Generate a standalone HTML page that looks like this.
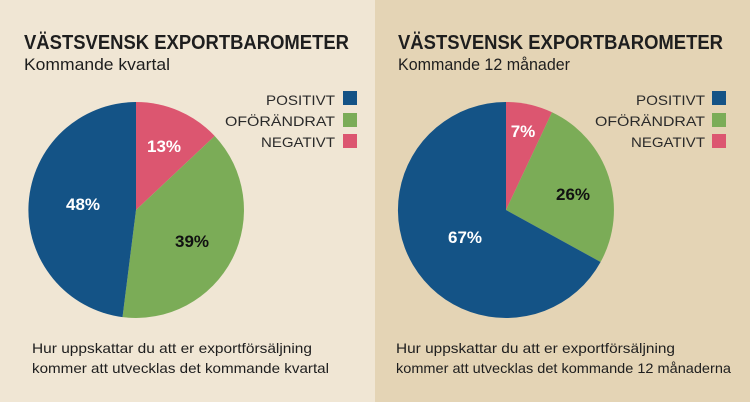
<!DOCTYPE html>
<html><head><meta charset="utf-8"><style>
body{margin:0;width:750px;height:402px;overflow:hidden;font-family:"Liberation Sans",sans-serif;}
</style></head><body>
<svg width="750" height="402" xmlns="http://www.w3.org/2000/svg" font-family="Liberation Sans, sans-serif">
<rect x="0" y="0" width="375" height="402" fill="#f0e6d4"/>
<rect x="375" y="0" width="375" height="402" fill="#e4d4b5"/>
<!-- left -->
<text x="24" y="49" font-size="20" font-weight="bold" fill="#1e1e1e" textLength="325" lengthAdjust="spacingAndGlyphs">VÄSTSVENSK EXPORTBAROMETER</text>
<text x="24" y="70" font-size="17" fill="#1e1e1e" textLength="146" lengthAdjust="spacingAndGlyphs">Kommande kvartal</text>
<path d="M136,210 L136,102 A108,108 0 0 1 214.7,136 Z" fill="#dc5670"/>
<path d="M136,210 L214.7,136 A108,108 0 0 1 122.5,317.1 Z" fill="#7bac57"/>
<path d="M136,210 L122.5,317.1 A108,108 0 0 1 136,102 Z" fill="#145386"/>
<text x="164" y="152" font-size="17" font-weight="bold" fill="#fff" text-anchor="middle">13%</text>
<text x="192" y="247" font-size="17" font-weight="bold" fill="#111" text-anchor="middle">39%</text>
<text x="83" y="210" font-size="17" font-weight="bold" fill="#fff" text-anchor="middle">48%</text>
<g font-size="14" fill="#2a2a2a" text-anchor="end">
<text x="335" y="105" textLength="69" lengthAdjust="spacingAndGlyphs">POSITIVT</text><text x="335" y="126" textLength="110" lengthAdjust="spacingAndGlyphs">OFÖRÄNDRAT</text><text x="335" y="147" textLength="74" lengthAdjust="spacingAndGlyphs">NEGATIVT</text>
</g>
<rect x="343" y="91" width="14" height="14" fill="#145386"/>
<rect x="343" y="113" width="14" height="14" fill="#7bac57"/>
<rect x="343" y="134" width="14" height="14" fill="#dc5670"/>
<text x="32" y="353" font-size="14" fill="#1e1e1e" textLength="280" lengthAdjust="spacingAndGlyphs">Hur uppskattar du att er exportförsäljning</text>
<text x="32" y="373" font-size="14" fill="#1e1e1e" textLength="297" lengthAdjust="spacingAndGlyphs">kommer att utvecklas det kommande kvartal</text>
<!-- right -->
<text x="398" y="49" font-size="20" font-weight="bold" fill="#1e1e1e" textLength="325" lengthAdjust="spacingAndGlyphs">VÄSTSVENSK EXPORTBAROMETER</text>
<text x="398" y="70" font-size="17" fill="#1e1e1e" textLength="172" lengthAdjust="spacingAndGlyphs">Kommande 12 månader</text>
<path d="M506,210 L506,102 A108,108 0 0 1 552,112.3 Z" fill="#dc5670"/>
<path d="M506,210 L552,112.3 A108,108 0 0 1 600.6,262 Z" fill="#7bac57"/>
<path d="M506,210 L600.6,262 A108,108 0 1 1 506,102 Z" fill="#145386"/>
<text x="523" y="137" font-size="17" font-weight="bold" fill="#fff" text-anchor="middle">7%</text>
<text x="573" y="200" font-size="17" font-weight="bold" fill="#111" text-anchor="middle">26%</text>
<text x="465" y="243" font-size="17" font-weight="bold" fill="#fff" text-anchor="middle">67%</text>
<g font-size="14" fill="#2a2a2a" text-anchor="end">
<text x="705" y="105" textLength="69" lengthAdjust="spacingAndGlyphs">POSITIVT</text><text x="705" y="126" textLength="110" lengthAdjust="spacingAndGlyphs">OFÖRÄNDRAT</text><text x="705" y="147" textLength="74" lengthAdjust="spacingAndGlyphs">NEGATIVT</text>
</g>
<rect x="712" y="91" width="14" height="14" fill="#145386"/>
<rect x="712" y="113" width="14" height="14" fill="#7bac57"/>
<rect x="712" y="134" width="14" height="14" fill="#dc5670"/>
<text x="396" y="353" font-size="14" fill="#1e1e1e" textLength="279" lengthAdjust="spacingAndGlyphs">Hur uppskattar du att er exportförsäljning</text>
<text x="396" y="373" font-size="14" fill="#1e1e1e" textLength="335" lengthAdjust="spacingAndGlyphs">kommer att utvecklas det kommande 12 månaderna</text>
</svg>
</body></html>
